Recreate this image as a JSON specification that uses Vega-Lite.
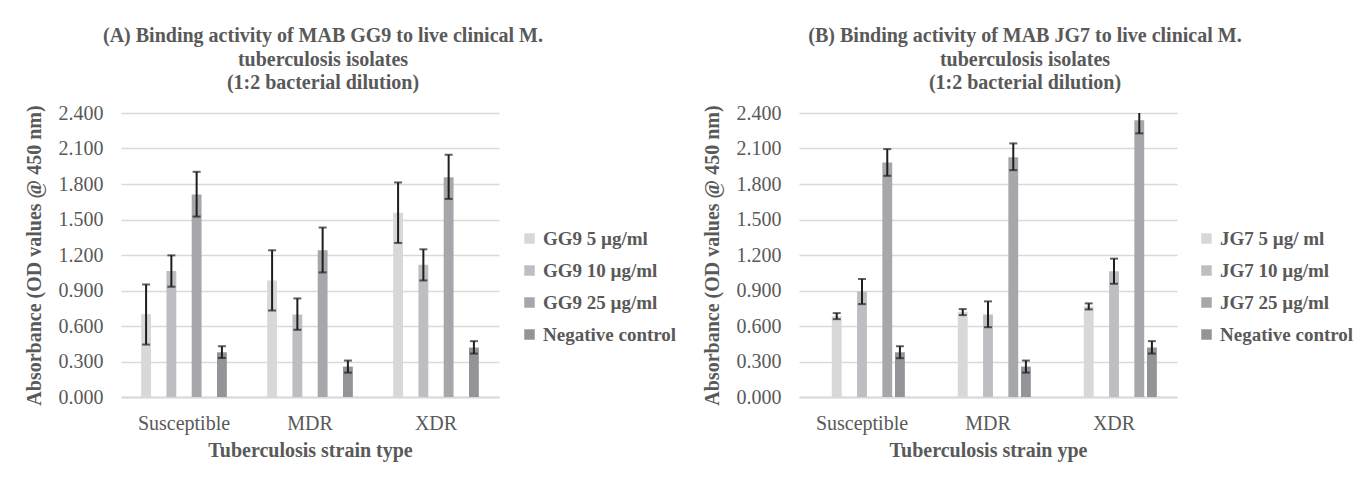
{
  "$schema": "https://vega.github.io/schema/vega-lite/v6.json",
  "background": "white",
  "padding": {"left": 23, "top": 26, "right": 5, "bottom": 5},
  "spacing": 24,
  "config": {
    "font": "Liberation Serif",
    "view": {"stroke": null},
    "axis": {"labelFont": "Liberation Serif", "titleFont": "Liberation Serif", "labelColor": "#595959", "titleColor": "#595959", "labelFontSize": 20, "titleFontSize": 20, "titleFontWeight": "bold", "labelOverlap": false},
    "title": {"font": "Liberation Serif", "fontSize": 20, "fontWeight": "bold", "color": "#595959", "lineHeight": 23.5, "anchor": "middle", "frame": "group", "offset": 10},
    "legend": {"labelFont": "Liberation Serif", "labelFontSize": 19, "labelFontWeight": "bold", "labelColor": "#595959", "symbolType": "square", "symbolSize": 110, "symbolStrokeWidth": 0, "rowPadding": 12, "orient": "none", "legendX": 402, "legendY": 116}
  },
  "resolve": {"scale": {"color": "independent"}},
  "hconcat": [
    {
      "width": 378,
      "height": 284,
      "title": {"text": ["(A) Binding activity of MAB GG9 to live clinical M.", "tuberculosis isolates", "(1:2 bacterial dilution)"], "dx": 13},
      "data": {"values": [
        {"strain": "Susceptible", "series": "GG9 5 µg/ml", "value": 0.70, "lo": 0.443, "hi": 0.951},
        {"strain": "Susceptible", "series": "GG9 10 µg/ml", "value": 1.065, "lo": 0.932, "hi": 1.197},
        {"strain": "Susceptible", "series": "GG9 25 µg/ml", "value": 1.711, "lo": 1.525, "hi": 1.903},
        {"strain": "Susceptible", "series": "Negative control", "value": 0.378, "lo": 0.330, "hi": 0.429},
        {"strain": "MDR", "series": "GG9 5 µg/ml", "value": 0.985, "lo": 0.731, "hi": 1.240},
        {"strain": "MDR", "series": "GG9 10 µg/ml", "value": 0.697, "lo": 0.568, "hi": 0.833},
        {"strain": "MDR", "series": "GG9 25 µg/ml", "value": 1.240, "lo": 1.053, "hi": 1.432},
        {"strain": "MDR", "series": "Negative control", "value": 0.257, "lo": 0.206, "hi": 0.308},
        {"strain": "XDR", "series": "GG9 5 µg/ml", "value": 1.556, "lo": 1.302, "hi": 1.813},
        {"strain": "XDR", "series": "GG9 10 µg/ml", "value": 1.118, "lo": 0.985, "hi": 1.248},
        {"strain": "XDR", "series": "GG9 25 µg/ml", "value": 1.858, "lo": 1.674, "hi": 2.047},
        {"strain": "XDR", "series": "Negative control", "value": 0.418, "lo": 0.367, "hi": 0.472}
      ]},
      "encoding": {
        "x": {"field": "strain", "type": "nominal", "sort": ["Susceptible", "MDR", "XDR"], "scale": {"paddingInner": 0.32, "paddingOuter": 0.16},
              "title": "Tuberculosis strain type",
              "axis": {"labelAngle": 0, "ticks": false, "domain": true, "domainColor": "#d9d9d9", "domainWidth": 2, "labelPadding": 16, "titlePadding": 7}},
        "xOffset": {"field": "series", "type": "nominal", "sort": ["GG9 5 µg/ml", "GG9 10 µg/ml", "GG9 25 µg/ml", "Negative control"], "scale": {"paddingInner": 0.22, "paddingOuter": 0}}
      },
      "layer": [
        {
          "mark": {"type": "bar"},
          "encoding": {
            "y": {"field": "value", "type": "quantitative", "scale": {"domain": [0, 2.4], "nice": false},
                  "title": "Absorbance (OD values @ 450 nm)",
                  "axis": {"values": [0, 0.3, 0.6, 0.9, 1.2, 1.5, 1.8, 2.1, 2.4], "tickCount": 9, "format": ".3f", "grid": true, "gridColor": "#d9d9d9", "gridWidth": 1.5, "domain": false, "ticks": false, "labelPadding": 18, "titlePadding": 14}},
            "color": {"field": "series", "type": "nominal", "sort": ["GG9 5 µg/ml", "GG9 10 µg/ml", "GG9 25 µg/ml", "Negative control"],
                      "scale": {"range": ["#d7d8da", "#bdbec1", "#a6a7aa", "#939497"]}, "legend": {"title": null, "legendX": 399}}
          }
        },
        {
          "mark": {"type": "rule", "color": "#1e1e1e", "strokeWidth": 2, "clip": true},
          "encoding": {"y": {"field": "lo", "type": "quantitative"}, "y2": {"field": "hi"}}
        },
        {
          "mark": {"type": "tick", "color": "#1e1e1e", "thickness": 2, "size": 8, "orient": "horizontal", "clip": true},
          "encoding": {"y": {"field": "lo", "type": "quantitative"}}
        },
        {
          "mark": {"type": "tick", "color": "#1e1e1e", "thickness": 2, "size": 8, "orient": "horizontal", "clip": true},
          "encoding": {"y": {"field": "hi", "type": "quantitative"}}
        }
      ]
    },
    {
      "width": 378,
      "height": 284,
      "title": {"text": ["(B) Binding activity of MAB JG7 to live clinical M.", "tuberculosis isolates", "(1:2 bacterial dilution)"], "dx": 37},
      "data": {"values": [
        {"strain": "Susceptible", "series": "JG7 5 µg/ ml", "value": 0.683, "lo": 0.658, "hi": 0.709},
        {"strain": "Susceptible", "series": "JG7 10 µg/ml", "value": 0.892, "lo": 0.785, "hi": 0.997},
        {"strain": "Susceptible", "series": "JG7 25 µg/ml", "value": 1.982, "lo": 1.869, "hi": 2.095},
        {"strain": "Susceptible", "series": "Negative control", "value": 0.378, "lo": 0.328, "hi": 0.429},
        {"strain": "MDR", "series": "JG7 5 µg/ ml", "value": 0.720, "lo": 0.692, "hi": 0.743},
        {"strain": "MDR", "series": "JG7 10 µg/ml", "value": 0.697, "lo": 0.590, "hi": 0.808},
        {"strain": "MDR", "series": "JG7 25 µg/ml", "value": 2.027, "lo": 1.917, "hi": 2.143},
        {"strain": "MDR", "series": "Negative control", "value": 0.257, "lo": 0.206, "hi": 0.308},
        {"strain": "XDR", "series": "JG7 5 µg/ ml", "value": 0.765, "lo": 0.740, "hi": 0.791},
        {"strain": "XDR", "series": "JG7 10 µg/ml", "value": 1.062, "lo": 0.957, "hi": 1.169},
        {"strain": "XDR", "series": "JG7 25 µg/ml", "value": 2.338, "lo": 2.228, "hi": 2.45},
        {"strain": "XDR", "series": "Negative control", "value": 0.418, "lo": 0.367, "hi": 0.472}
      ]},
      "encoding": {
        "x": {"field": "strain", "type": "nominal", "sort": ["Susceptible", "MDR", "XDR"], "scale": {"paddingInner": 0.32, "paddingOuter": 0.16},
              "title": "Tuberculosis strain ype",
              "axis": {"labelAngle": 0, "ticks": false, "domain": true, "domainColor": "#d9d9d9", "domainWidth": 2, "labelPadding": 16, "titlePadding": 7}},
        "xOffset": {"field": "series", "type": "nominal", "sort": ["JG7 5 µg/ ml", "JG7 10 µg/ml", "JG7 25 µg/ml", "Negative control"], "scale": {"paddingInner": 0.22, "paddingOuter": 0}}
      },
      "layer": [
        {
          "mark": {"type": "bar"},
          "encoding": {
            "y": {"field": "value", "type": "quantitative", "scale": {"domain": [0, 2.4], "nice": false},
                  "title": "Absorbance (OD values @ 450 nm)",
                  "axis": {"values": [0, 0.3, 0.6, 0.9, 1.2, 1.5, 1.8, 2.1, 2.4], "tickCount": 9, "format": ".3f", "grid": true, "gridColor": "#d9d9d9", "gridWidth": 1.5, "domain": false, "ticks": false, "labelPadding": 18, "titlePadding": 14}},
            "color": {"field": "series", "type": "nominal", "sort": ["JG7 5 µg/ ml", "JG7 10 µg/ml", "JG7 25 µg/ml", "Negative control"],
                      "scale": {"range": ["#d7d8da", "#bdbec1", "#a6a7aa", "#939497"]}, "legend": {"title": null, "legendX": 398}}
          }
        },
        {
          "mark": {"type": "rule", "color": "#1e1e1e", "strokeWidth": 2, "clip": true},
          "encoding": {"y": {"field": "lo", "type": "quantitative"}, "y2": {"field": "hi"}}
        },
        {
          "mark": {"type": "tick", "color": "#1e1e1e", "thickness": 2, "size": 8, "orient": "horizontal", "clip": true},
          "encoding": {"y": {"field": "lo", "type": "quantitative"}}
        },
        {
          "mark": {"type": "tick", "color": "#1e1e1e", "thickness": 2, "size": 8, "orient": "horizontal", "clip": true},
          "encoding": {"y": {"field": "hi", "type": "quantitative"}}
        }
      ]
    }
  ]
}
